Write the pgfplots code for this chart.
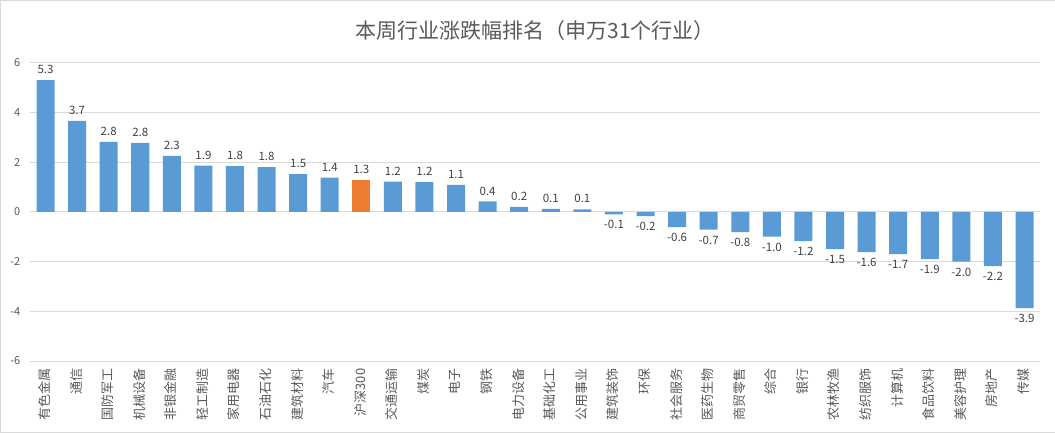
\documentclass[border=0pt]{standalone}
\usepackage{pgfplots}
\pgfplotsset{compat=1.18}
\usepackage{fontspec}
\setmainfont{Noto Sans CJK SC}
\definecolor{barblue}{HTML}{5B9BD5}
\definecolor{barorange}{HTML}{ED7D31}
\definecolor{txtgray}{HTML}{595959}
\definecolor{valgray}{HTML}{404040}
\definecolor{gridgray}{HTML}{D9D9D9}

\begin{document}
\begin{tikzpicture}
\begin{axis}[
   name=ax,
   scale only axis,
   width=1010pt, height=298pt,
   ybar, bar width=18pt,
   xmin=-0.5, xmax=31.5,
   ymin=-6, ymax=6,
   ytick={-6,-4,...,6},
   xtick={0,...,31},
   xticklabels={有色金属,通信,国防军工,机械设备,非银金融,轻工制造,家用电器,石油石化,建筑材料,汽车,沪深300,交通运输,煤炭,电子,钢铁,电力设备,基础化工,公用事业,建筑装饰,环保,社会服务,医药生物,商贸零售,综合,银行,农林牧渔,纺织服饰,计算机,食品饮料,美容护理,房地产,传媒},
   xticklabel style={rotate=90, anchor=east, font=\fontsize{13}{14}\selectfont, text=txtgray, yshift=1pt},
   yticklabel style={font=\fontsize{11}{12}\selectfont, text=txtgray, xshift=-6pt},
   /pgf/number format/assume math mode=true,
   axis line style={draw=none},
   major tick style={draw=none},
   ymajorgrids, major grid style={draw=gridgray, line width=0.8pt},
   xtick pos=bottom,
   nodes near coords,
   nodes near coords style={font=\fontsize{11.5}{12}\selectfont, text=valgray, inner sep=6pt,
     /pgf/number format/.cd, fixed, fixed zerofill, precision=1, assume math mode=true},
   title={本周行业涨跌幅排名（申万31个行业）},
   title style={font=\fontsize{21}{23}\selectfont, text=txtgray, yshift=13pt},
   clip=false,
]
\addplot[fill=barblue, draw=none, bar shift=0pt] coordinates {
(0,5.30) (1,3.66) (2,2.82) (3,2.78) (4,2.25) (5,1.86) (6,1.84) (7,1.80)
(8,1.52) (9,1.38) (11,1.22) (12,1.20) (13,1.08) (14,0.42) (15,0.20)
(16,0.12) (17,0.10) (18,-0.10) (19,-0.17) (20,-0.62) (21,-0.72) (22,-0.82)
(23,-1.00) (24,-1.18) (25,-1.50) (26,-1.62) (27,-1.70) (28,-1.90) (29,-2.00)
(30,-2.18) (31,-3.88)
};
\addplot[fill=barorange, draw=none, bar shift=0pt] coordinates {(10,1.28)};
\end{axis}
\draw[gridgray] ([xshift=-29.5pt,yshift=-71.5pt]ax.south west) rectangle ([xshift=14.5pt,yshift=62.5pt]ax.north east);
\end{tikzpicture}
\end{document}
